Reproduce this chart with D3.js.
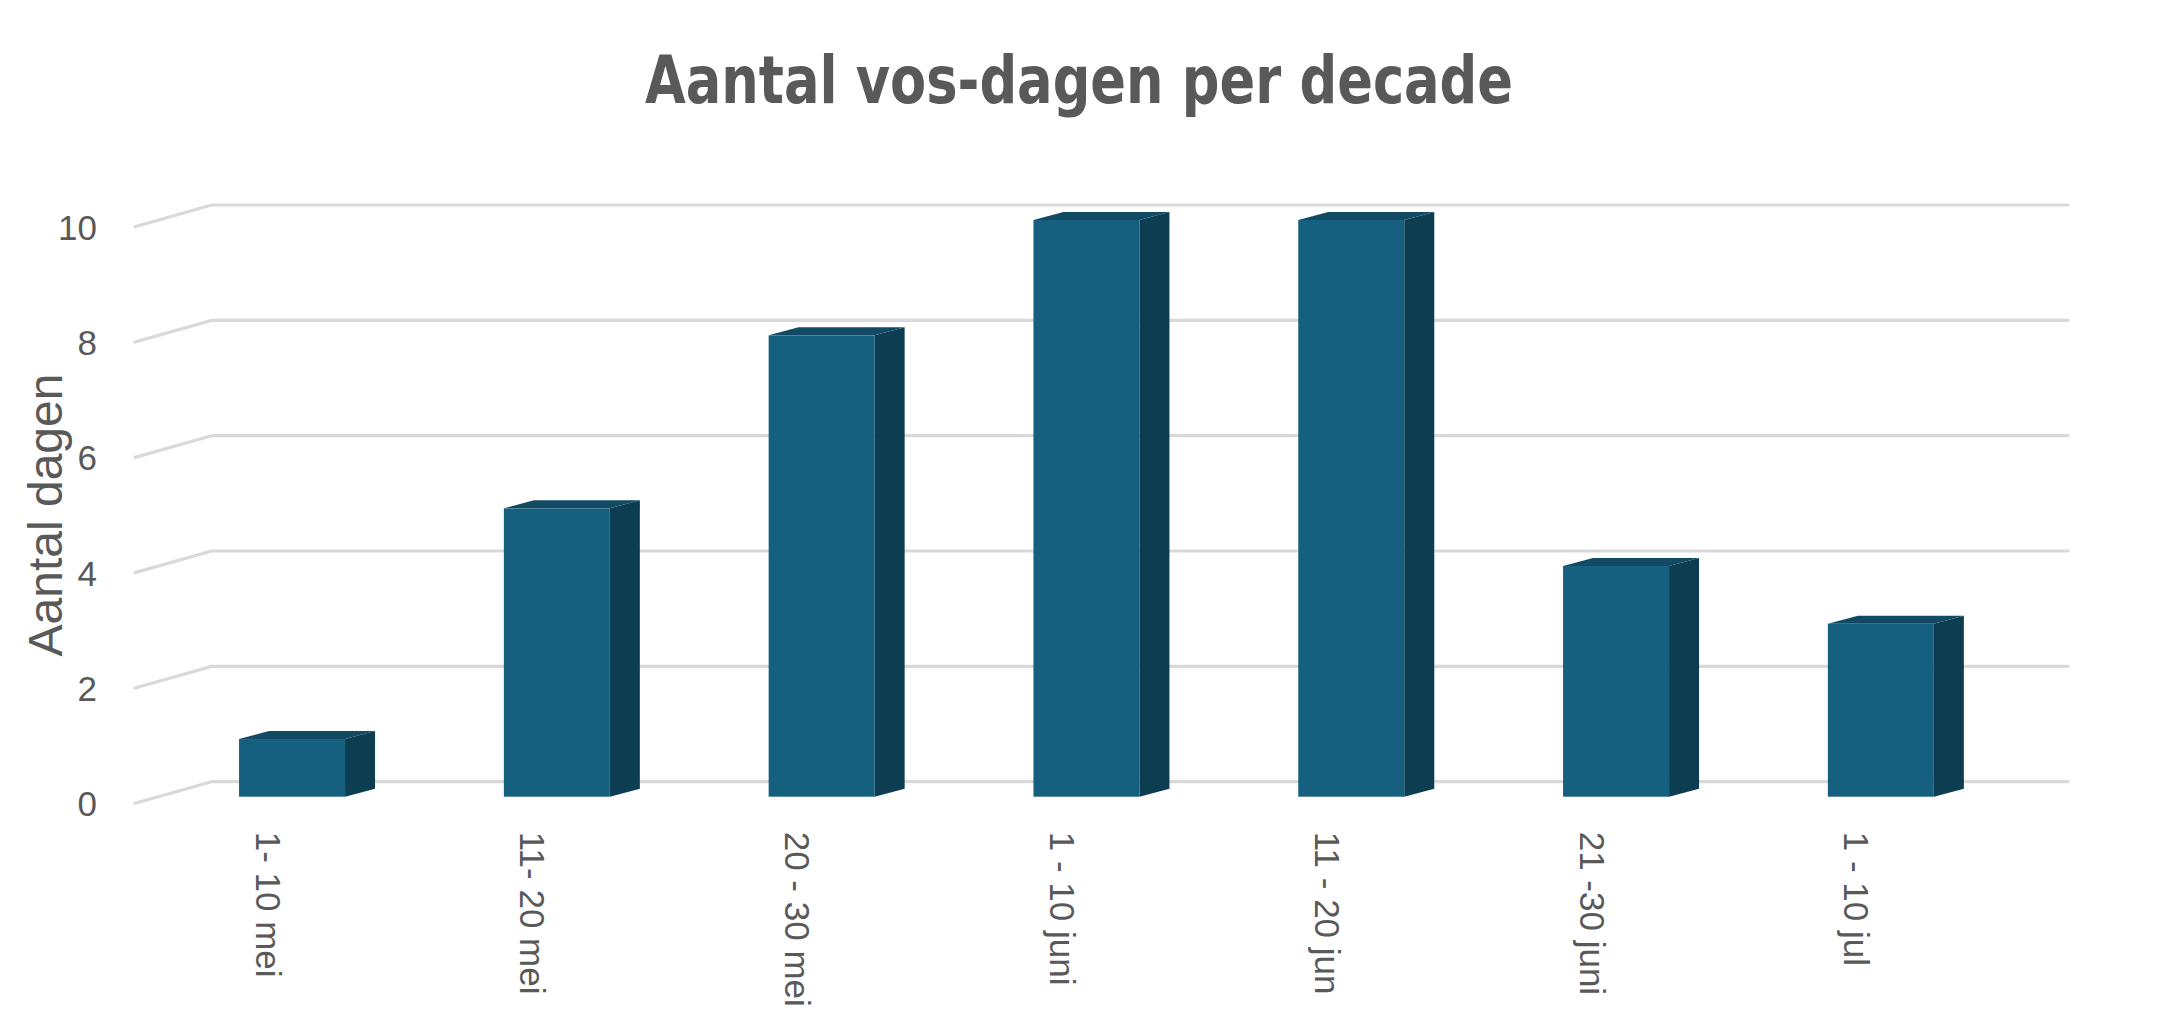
<!DOCTYPE html>
<html>
<head>
<meta charset="utf-8">
<script src="https://cdn.jsdelivr.net/npm/d3@7"></script>
<style>
  html, body { margin: 0; padding: 0; background: #ffffff; }
  svg { display: block; }
  text { font-family: "Liberation Sans", Arial, sans-serif; fill: #595959; }
</style>
</head>
<body>
<svg id="chart" width="2160" height="1033"></svg>
<script>
// ---- data ----
const categories = ["1- 10 mei", "11- 20 mei", "20 - 30 mei", "1 - 10 juni", "11 - 20 jun", "21 -30 juni", "1 - 10 jul"];
const values = [1, 5, 8, 10, 10, 4, 3];
const yTicks = [0, 2, 4, 6, 8, 10];
const titleText = "Aantal vos-dagen per decade";
const yTitleText = "Aantal dagen";

// ---- layout ----
const W = 2160, H = 1033;
const svg = d3.select("#chart");

// scales: back wall, bar front plane, floor front edge
const yBack  = d3.scaleLinear().domain([0, 10]).range([781.7, 205]);
const yFront = d3.scaleLinear().domain([0, 10]).range([796.7, 220]);
const yEdge  = d3.scaleLinear().domain([0, 10]).range([803.3, 226.7]);

const x = d3.scaleBand()
  .domain(categories)
  .range([159.6, 2013.3])
  .paddingInner(0.5997)
  .paddingOuter(0.3);

const wallLeft = 211.7, wallRight = 2068, edgeLeft = 135;
const depthDx = 30, depthDy = -8;
const labelShift = -24;

// ---- gridlines ----
const grid = svg.append("g").attr("class", "grid");
grid.selectAll("path")
  .data(yTicks)
  .join("path")
  .attr("d", v => `M${edgeLeft},${yEdge(v)} L${wallLeft},${yBack(v)} L${wallRight},${yBack(v)}`)
  .attr("fill", "none")
  .attr("stroke", "#d9d9d9")
  .attr("stroke-width", 3.2)
  .attr("stroke-linecap", "round")
  .attr("stroke-linejoin", "round");

// ---- bars (3D look) ----
const bars = svg.append("g").attr("class", "bars");
const bw = x.bandwidth();
const g = bars.selectAll("g.bar")
  .data(categories.map((c, i) => ({ c, v: values[i] })))
  .join("g")
  .attr("class", "bar");

// side face
g.append("path")
  .attr("d", d => {
    const x1 = x(d.c) + bw, yt = yFront(d.v), yb = yFront(0);
    return `M${x1},${yt} L${x1 + depthDx},${yt + depthDy} L${x1 + depthDx},${yb + depthDy} L${x1},${yb} Z`;
  })
  .attr("fill", "#0c3d51");
// top face
g.append("path")
  .attr("d", d => {
    const x0 = x(d.c), yt = yFront(d.v);
    return `M${x0},${yt} L${x0 + depthDx},${yt + depthDy} L${x0 + bw + depthDx},${yt + depthDy} L${x0 + bw},${yt} Z`;
  })
  .attr("fill", "#124a63");
// front face
g.append("rect")
  .attr("x", d => x(d.c))
  .attr("y", d => yFront(d.v))
  .attr("width", bw)
  .attr("height", d => yFront(0) - yFront(d.v))
  .attr("fill", "#16607f");

// ---- y axis tick labels ----
const yAxis = d3.axisLeft(yEdge).tickValues(yTicks).tickSize(0).tickPadding(0);
const ya = svg.append("g").attr("transform", "translate(97,0)").call(yAxis);
ya.select(".domain").remove();
ya.selectAll("text")
  .attr("dy", null)
  .attr("dominant-baseline", "central")
  .style("font-family", '"Liberation Sans", Arial, sans-serif')
  .style("font-size", "35px")
  .style("fill", "#595959");

// ---- x axis labels (rotated) ----
svg.append("g").selectAll("text")
  .data(categories)
  .join("text")
  .attr("transform", c => `translate(${x(c) + bw / 2 + labelShift},831.7) rotate(90)`)
  .attr("text-anchor", "start")
  .attr("dominant-baseline", "central")
  .style("font-size", "35px")
  .text(c => c);

// ---- y axis title ----
svg.append("text")
  .attr("transform", "translate(61.7,515) rotate(-90)")
  .attr("text-anchor", "middle")
  .style("font-size", "48px")
  .text(yTitleText);

// ---- chart title ----
svg.append("text")
  .attr("x", 645)
  .attr("y", 102.7)
  .attr("textLength", 868)
  .attr("lengthAdjust", "spacingAndGlyphs")
  .style("font-family", '"Liberation Sans Narrow", "DejaVu Sans Condensed", "Liberation Sans", sans-serif')
  .style("font-weight", "bold")
  .style("font-size", "66px")
  .text(titleText);
</script>
</body>
</html>
